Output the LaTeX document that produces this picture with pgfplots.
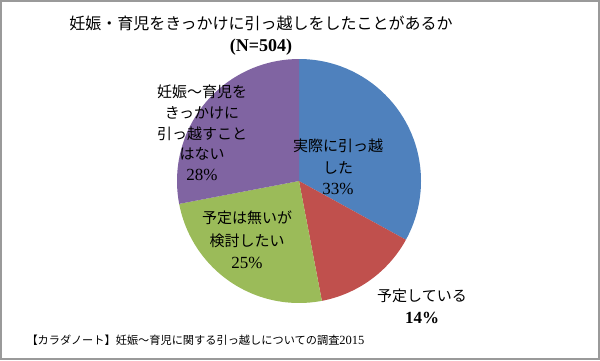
\documentclass[border=0pt]{standalone}
\usepackage{pgfplots}
\pgfplotsset{compat=1.18}
\usepackage{fontspec}
\setmainfont{Liberation Serif}
\newfontfamily\jp{Noto Sans CJK JP}
\definecolor{c0}{HTML}{4F81BD}
\definecolor{c1}{HTML}{C0504D}
\definecolor{c2}{HTML}{9BBB59}
\definecolor{c3}{HTML}{8064A2}
\definecolor{frame}{HTML}{9A9A9A}
\newcommand\num[1]{{\fontsize{17}{17}\selectfont #1}}
\begin{document}
\begin{tikzpicture}
\def\acc{90}
\foreach \v [count=\i from 0] in {33,14,25,28}{%
  \pgfmathsetmacro\e{\acc-3.6*\v}%
  \expandafter\xdef\csname s\i\endcsname{\acc}%
  \expandafter\xdef\csname e\i\endcsname{\e}%
  \global\let\acc\e
}
\begin{axis}[
  width=600pt, height=360pt, scale only axis,
  xmin=0, xmax=600, ymin=0, ymax=360, y dir=reverse,
  hide axis, clip=false]
\pgfplotsinvokeforeach{0,1,2,3}{%
  \fill[c#1] (axis cs:299,181) -- ++(\csname s#1\endcsname:122pt)
     arc[start angle=\csname s#1\endcsname, end angle=\csname e#1\endcsname, radius=122pt] -- cycle;
}
\draw[frame, line width=2pt] (axis cs:1,1) rectangle (axis cs:599,359);
\node[align=center, font=\fontsize{16}{22}\selectfont] at (axis cs:261,36)
  {{\jp 妊娠・育児をきっかけに引っ越しをしたことがあるか}\\{\fontsize{18}{18}\selectfont\textbf{(N=504)}}};
\node[align=center, font=\fontsize{15}{21.5}\selectfont] at (axis cs:338,167)
  {{\jp 実際に引っ越}\\{\jp した}\\\num{33\%}};
\node[align=center, font=\fontsize{15}{20.7}\selectfont] at (axis cs:202,133)
  {{\jp 妊娠～育児を}\\{\jp きっかけに}\\{\jp 引っ越すこと}\\{\jp はない}\\\num{28\%}};
\node[align=center, font=\fontsize{15}{22.5}\selectfont] at (axis cs:247,240)
  {{\jp 予定は無いが}\\{\jp 検討したい}\\\num{25\%}};
\node[align=center, font=\fontsize{15}{22}\selectfont] at (axis cs:422,306)
  {{\jp 予定している}\\\num{\textbf{14\%}}};
\node[anchor=west, font=\fontsize{11.2}{13}\selectfont] at (axis cs:23,340)
  {{\jp 【カラダノート】妊娠～育児に関する引っ越しについての調査}{\fontsize{12.5}{13}\selectfont 2015}};
\end{axis}
\end{tikzpicture}
\end{document}
